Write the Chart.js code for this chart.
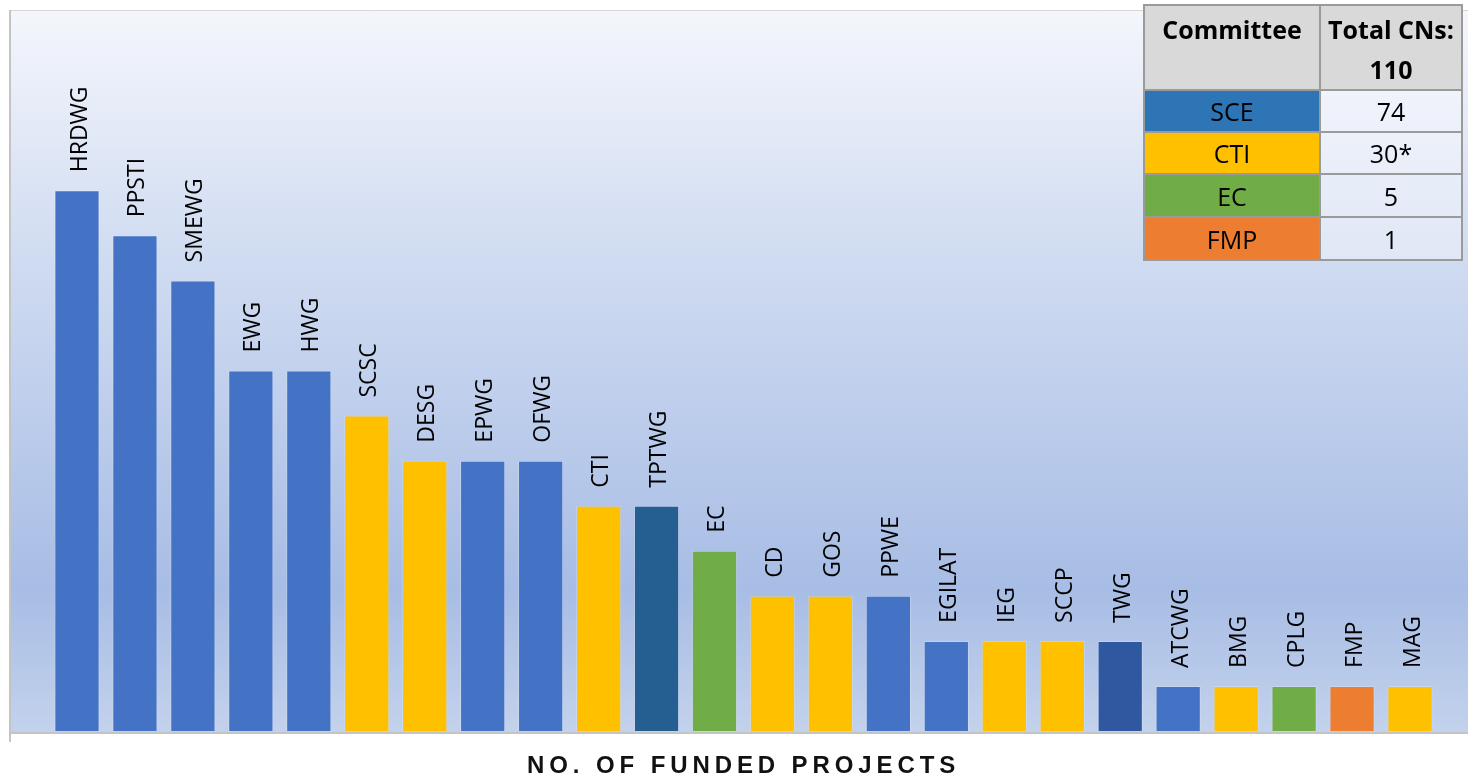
<!DOCTYPE html>
<html>
<head>
<meta charset="utf-8">
<script src="https://cdn.jsdelivr.net/npm/chart.js@4"></script>
<style>
  html, body { margin: 0; padding: 0; background: #ffffff; }
  #wrap { position: relative; width: 1468px; height: 777px; overflow: hidden; }
  #c { position: absolute; left: 0; top: 0; }
  #title { position: absolute; left: 527px; top: 753px; font: bold 24px "Liberation Sans", Arial, sans-serif; letter-spacing: 4.9px; line-height: 24px; color: #111; white-space: nowrap; }
  #tbl { position: absolute; left: 1143px; top: 4px; width: 318px; border-collapse: collapse; font-family: "Open Sans", sans-serif; font-size: 25px; color: #000; table-layout: fixed; }
  #tbl td { border: 2px solid #9a9a9a; text-align: center; padding: 0; line-height: 30px; }
  #tbl td.h { background: #d9d9d9; font-weight: bold; font-size: 25px; vertical-align: top; line-height: 40px; padding-top: 3px; }
  #tbl td.v { background: rgba(255,255,255,0.35); }
</style>
</head>
<body>
<div id="wrap">
  <canvas id="c" width="1468" height="777"></canvas>
  <div id="title"></div>
  <table id="tbl"></table>
</div>
<script>
// ---- data ----
const categories = ['HRDWG','PPSTI','SMEWG','EWG','HWG','SCSC','DESG','EPWG','OFWG','CTI','TPTWG','EC','CD','GOS','PPWE','EGILAT','IEG','SCCP','TWG','ATCWG','BMG','CPLG','FMP','MAG'];
const values = [12,11,10,8,8,7,6,6,6,5,5,4,3,3,3,2,2,2,2,1,1,1,1,1];
const barColors = ['#4472c4','#4472c4','#4472c4','#4472c4','#4472c4','#ffc000','#ffc000','#4472c4','#4472c4','#ffc000','#255e91','#70ad47','#ffc000','#ffc000','#4472c4','#4472c4','#ffc000','#ffc000','#3058a0','#4472c4','#ffc000','#70ad47','#ed7d31','#ffc000'];
const axisTitle = 'NO. OF FUNDED PROJECTS';
const tableHeaders = ['Committee', 'Total CNs:', '110'];
const committees = ['SCE','CTI','EC','FMP'];
const committeeTotals = ['74','30*','5','1'];
const committeeColors = ['#2e75b6','#ffc000','#70ad47','#ed7d31'];
const rowHeights = [84, 42, 42, 43, 43];

// ---- table ----
document.getElementById('title').textContent = axisTitle;
const tbl = document.getElementById('tbl');
let html = '<colgroup><col style="width:176px"><col style="width:142px"></colgroup>';
html += `<tr style="height:${rowHeights[0]}px"><td class="h">${tableHeaders[0]}</td><td class="h">${tableHeaders[1]}<br>${tableHeaders[2]}</td></tr>`;
committees.forEach((c, i) => {
  html += `<tr style="height:${rowHeights[i+1]}px"><td style="background:${committeeColors[i]}">${c}</td><td class="v">${committeeTotals[i]}</td></tr>`;
});
tbl.innerHTML = html;

// ---- plugins ----
const bgPlugin = {
  id: 'bg',
  beforeDraw(chart) {
    const { ctx, chartArea: a } = chart;
    const left = a.left - 38, right = chart.width, top = a.top, bottom = a.bottom + 2;
    const g = ctx.createLinearGradient(0, top, 0, bottom);
    g.addColorStop(0, '#f4f6fc');
    g.addColorStop(0.35, '#cfdbf1');
    g.addColorStop(0.8, '#a8bde5');
    g.addColorStop(1, '#c3d2ec');
    ctx.save();
    ctx.fillStyle = g;
    ctx.fillRect(left, top, right - left, bottom - top);
    ctx.strokeStyle = '#d6d6d6';
    ctx.lineWidth = 1;
    ctx.beginPath(); ctx.moveTo(left, top + 0.5); ctx.lineTo(right, top + 0.5); ctx.stroke();
    ctx.strokeStyle = '#c4c4c4';
    ctx.lineWidth = 2;
    ctx.beginPath(); ctx.moveTo(left, top); ctx.lineTo(left, bottom + 9); ctx.stroke();
    ctx.beginPath(); ctx.moveTo(left, bottom); ctx.lineTo(right, bottom); ctx.stroke();
    ctx.restore();
  }
};
const labelPlugin = {
  id: 'barLabels',
  afterDatasetsDraw(chart) {
    const { ctx } = chart;
    const meta = chart.getDatasetMeta(0);
    ctx.save();
    ctx.fillStyle = '#000';
    ctx.font = '23px "Open Sans", sans-serif';
    ctx.textAlign = 'left';
    ctx.textBaseline = 'middle';
    meta.data.forEach((bar, i) => {
      ctx.save();
      ctx.translate(bar.x + 3, bar.y - 18);
      ctx.rotate(-Math.PI / 2);
      ctx.fillText(categories[i], 0, 0);
      ctx.restore();
    });
    ctx.restore();
  }
};

new Chart(document.getElementById('c'), {
  type: 'bar',
  data: {
    labels: categories,
    datasets: [{
      data: values,
      backgroundColor: barColors,
      borderColor: 'rgba(255,255,255,0.2)',
      borderWidth: 1,
      categoryPercentage: 1,
      barPercentage: 0.78
    }]
  },
  options: {
    responsive: false,
    animation: false,
    layout: { padding: { left: 48, right: 29, top: 10, bottom: 46 } },
    plugins: { legend: { display: false }, tooltip: { enabled: false } },
    scales: {
      x: { display: false },
      y: { display: false, min: 0, max: 16 }
    }
  },
  plugins: [bgPlugin, labelPlugin]
});
</script>
</body>
</html>
